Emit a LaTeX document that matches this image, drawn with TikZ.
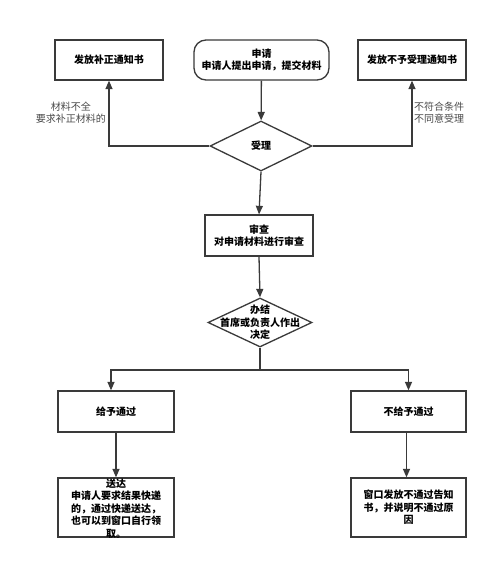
\documentclass[tikz,border=0pt]{standalone}
\usepackage{fontspec}
\setmainfont{Noto Sans CJK SC}
\usetikzlibrary{shapes.geometric,arrows.meta}
\definecolor{ln}{HTML}{3A3A3A}
\definecolor{lbl}{HTML}{4A4A4A}
\tikzset{
  box/.style={draw=ln,line width=1.3pt,rectangle,inner sep=0pt},
  rbox/.style={box,rounded corners=12pt},
  dia/.style={draw=ln,line width=1.3pt,diamond,inner sep=0pt},
  txt/.style={font=\fontsize{10}{12.6}\selectfont\bfseries,align=center,text=black,inner sep=0pt},
  side/.style={font=\fontsize{10}{12}\selectfont,text=lbl,inner sep=0pt},
  arr/.style={draw=ln,line width=1.3pt,-{Triangle[length=8.5pt,width=7pt]}},
  ln/.style={draw=ln,line width=1.3pt}
}
\begin{document}
\begin{tikzpicture}[x=1pt,y=-1pt]
\useasboundingbox[fill=white] (0,0) rectangle (500,568);
% top row
\node[box,minimum width=108pt,minimum height=40pt] (fix) at (109,60) {};
\node[txt] (fixt) at (fix) {发放补正通知书};
\node[rbox,minimum width=135pt,minimum height=40pt] (start) at (261.5,60) {};
\node[txt] (startt) at (start) {申请\\申请人提出申请，提交材料};
\node[box,minimum width=108pt,minimum height=40pt] (rej) at (412,60) {};
\node[txt] (rejt) at (rej) {发放不予受理通知书};
% accept diamond
\node[dia,minimum width=102pt,minimum height=50pt] (acc) at (261,146) {};
\node[txt] (acct) at (acc) {受理};
% review
\node[box,minimum width=108pt,minimum height=41pt] (rev) at (259,235.5) {};
\node[txt] (revt) at (rev) {审查\\对申请材料进行审查};
% decision diamond
\node[dia,minimum width=104pt,minimum height=49pt] (dec) at (260,322.5) {};
\node[txt] (dect) at (dec) {办结\\首席或负责人作出\\决定};
\coordinate (fork) at (260,370);
% bottom
\node[box,minimum width=116pt,minimum height=41pt] (pass) at (116,411.5) {};
\node[txt] (passt) at (pass) {给予通过};
\node[box,minimum width=115pt,minimum height=41pt] (fail) at (408.5,411.5) {};
\node[txt] (failt) at (fail) {不给予通过};
\node[box,minimum width=116pt,minimum height=59pt] (deliv) at (116,507.5) {};
\node[txt] (delivt) at (116,508.5) {送达\\申请人要求结果快递\\的，通过快递送达，\\也可以到窗口自行领\\取。};
\node[box,minimum width=115pt,minimum height=59pt] (notice) at (408.5,507.5) {};
\node[txt] (noticet) at (notice) {窗口发放不通过告知\\书，并说明不通过原\\因};
% side labels
\node[side,anchor=east,align=center] (l1) at (106,113) {材料不全\\要求补正材料的};
\node[side,anchor=west,align=left] (l2) at (414,113) {不符合条件\\不同意受理};
% connectors
\draw[arr] (start) -- (acc);
\draw[arr] (acc.west) -| (fix.south);
\draw[arr] (acc.east) -| (rej.south);
\draw[arr] (acc.south) -- (rev.north);
\draw[arr] (rev.south) -- (dec.north);
\draw[ln] (dec.south) -- (fork);
\draw[arr] (fork) -| ([xshift=-5pt]pass.north);
\draw[arr] (fork) -| (fail.north);
\draw[arr] (pass.south) -- (deliv.north);
\draw[arr] ([xshift=-2pt]fail.south) -- ([xshift=-2pt]notice.north);
\end{tikzpicture}
\end{document}
